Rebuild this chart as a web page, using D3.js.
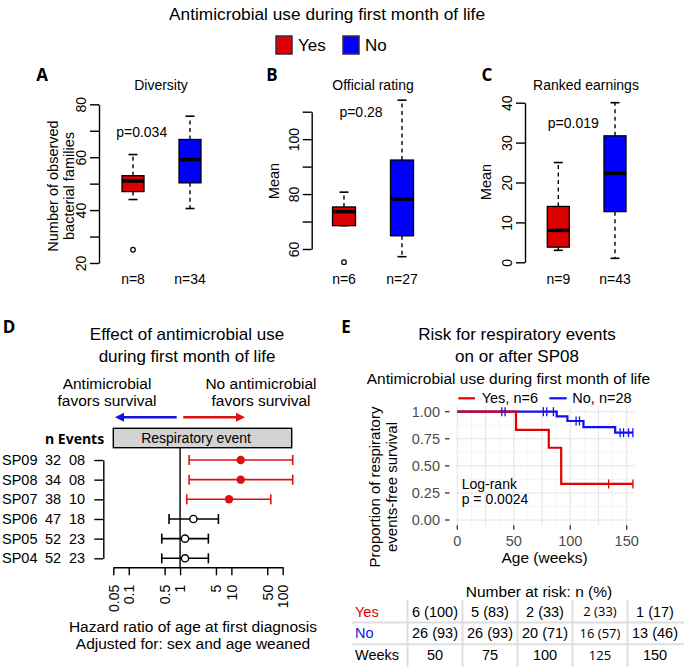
<!DOCTYPE html>
<html><head><meta charset="utf-8">
<script src="https://cdn.jsdelivr.net/npm/d3@7"></script>
<style>
body{margin:0;background:#fff}
svg{display:block}
text{font-family:"Liberation Sans",Arial,sans-serif;fill:#000}
</style>
</head><body>
<svg id="c" width="685" height="670"></svg>
<script>
// ---------------- DATA ----------------
const groups = ["Yes", "No"];
const groupColors = ["#dd0000", "#0000ff"];

// Panel A: Diversity  [lowWhisker, Q1, median, Q3, highWhisker]
const diversityStats = [[44, 47, 51, 53, 61], [40.6, 50.3, 59.1, 66.7, 75.5]];
const diversityOutliers = [[25], []];
const diversityN = [8, 34];
const diversityTicks = [20, 30, 40, 50, 60, 70, 80];
const diversityLabels = [20, 40, 60, 80];

// Panel B: Official rating
const ratingStats = [[68.5, 68.5, 73.6, 75.3, 80.7], [57.2, 64.8, 78.2, 92.4, 114.2]];
const ratingOutliers = [[55.2], []];
const ratingN = [6, 27];
const ratingTicks = [60, 70, 80, 90, 100, 110];
const ratingLabels = [60, 80, 100];

// Panel C: Ranked earnings
const earningsStats = [[3, 3.8, 8, 14, 25], [1, 12.7, 22.3, 31.7, 40]];
const earningsOutliers = [[], []];
const earningsN = [9, 43];
const earningsTicks = [0, 10, 20, 30, 40];
const earningsLabels = [0, 10, 20, 30, 40];

// Panel D: forest plot
const forestRows = ["SP09", "SP08", "SP07", "SP06", "SP05", "SP04"];
const forestN = [32, 34, 38, 47, 52, 52];
const forestEvents = ["08", "08", "10", "18", "23", "23"];
const forestHR = [15.2, 15.2, 9.0, 1.82, 1.25, 1.25];
const forestLower = [1.5, 1.5, 1.35, 0.61, 0.44, 0.44];
const forestUpper = [157, 157, 58.6, 5.58, 3.56, 3.56];
const forestSignificant = [true, true, true, false, false, false];
const forestTicks = [0.05, 0.1, 0.5, 1, 5, 10, 50, 100];

// Panel E: Kaplan-Meier
const kmYesTime = [0, 52, 81, 92, 155.5];
const kmYesSurv = [1, 0.833, 0.667, 0.333, 0.333];
const kmYesCensorTime = [134, 155.5];
const kmYesCensorSurv = [0.333, 0.333];
const kmNoTime = [0, 88, 97.5, 111.7, 139.8, 155.5];
const kmNoSurv = [1, 0.957, 0.914, 0.857, 0.806, 0.806];
const kmNoCensorTime = [39.4, 42.3, 76.2, 79.2, 85.1, 105.2, 108.2, 144.2, 147.2, 151.6, 155.5];
const kmNoCensorSurv = [1, 1, 1, 1, 1, 0.914, 0.914, 0.806, 0.806, 0.806, 0.806];
const kmXTicks = [0, 50, 100, 150];
const kmYTicks = [0, 0.25, 0.5, 0.75, 1];
const kmLegend = ["Yes, n=6", "No, n=28"];

// Risk table
const riskWeeks = [50, 75, 100, 125, 150];
const riskYesN = [6, 5, 2, 2, 1];
const riskYesPct = [100, 83, 33, 33, 17];
const riskNoN = [26, 26, 20, 16, 13];
const riskNoPct = [93, 93, 71, 57, 46];

// ---------------- DRAW ----------------
const svg = d3.select("#c");
const KMRED = "#e00000", KMBLUE = "#1010f0", FRED = "#dd1111";

function txt(x, y, s, size, opts = {}) {
  const t = svg.append("text").attr("x", x).attr("y", y).attr("dy", "0.35em")
    .attr("text-anchor", opts.anchor || "middle").style("font-size", size + "px").text(s);
  if (opts.weight) t.style("font-weight", opts.weight);
  if (opts.family) t.style("font-family", opts.family);
  if (opts.fill) t.style("fill", opts.fill);
  return t;
}
function rtxt(x, y, s, size) {
  return svg.append("text").attr("transform", `translate(${x},${y}) rotate(-90)`)
    .attr("dy", "0.35em").attr("text-anchor", "middle").style("font-size", size + "px").text(s);
}

// Top title + legend
txt(327, 14, "Antimicrobial use during first month of life", 17.3);
groups.forEach((g, i) => {
  const bx = [276, 343][i];
  svg.append("rect").attr("x", bx).attr("y", 36).attr("width", 16).attr("height", 18)
    .attr("fill", groupColors[i]).attr("stroke", "#3a2a4a").attr("stroke-width", 1.5);
  txt(bx + 22, 45.5, g, 17, {anchor: "start"});
});

function letter(x, y, s) {
  txt(x, y, s, 17, {weight: 700, family: "'Open Sans',sans-serif"});
}

function boxPanel(cfg) {
  const y = d3.scaleLinear().domain(cfg.yDomain).range(cfg.yRange);
  const x = d3.scalePoint().domain(groups).range(cfg.centers);
  const ax = svg.append("g").attr("transform", `translate(${cfg.axisX},0)`)
    .call(d3.axisLeft(y).tickValues(cfg.ticks).tickSize(9).tickSizeOuter(0)
      .tickFormat(d => cfg.labels.includes(d) ? d : ""));
  ax.selectAll("path,line").attr("stroke", "#000").attr("stroke-width", 1.4);
  ax.selectAll("text").attr("transform", "rotate(-90)").attr("x", 0).attr("y", -13)
    .attr("dy", 0).attr("text-anchor", "middle").style("font-size", "14px").style("fill", "#000")
    .style("font-family", "'Liberation Sans',Arial,sans-serif");
  const bw = cfg.boxW, cw = 9;
  groups.forEach((g, i) => {
    const s = cfg.stats[i], cx = x(g);
    const G = svg.append("g");
    G.append("line").attr("x1", cx).attr("x2", cx).attr("y1", y(s[3])).attr("y2", y(s[4]))
      .attr("stroke", "#000").attr("stroke-width", 1.4).attr("stroke-dasharray", "4,3.5");
    G.append("line").attr("x1", cx).attr("x2", cx).attr("y1", y(s[1])).attr("y2", y(s[0]))
      .attr("stroke", "#000").attr("stroke-width", 1.4).attr("stroke-dasharray", "4,3.5");
    [s[0], s[4]].forEach(v => G.append("line").attr("x1", cx - cw / 2).attr("x2", cx + cw / 2)
      .attr("y1", y(v)).attr("y2", y(v)).attr("stroke", "#000").attr("stroke-width", 1.6));
    G.append("rect").attr("x", cx - bw / 2).attr("width", bw).attr("y", y(s[3]))
      .attr("height", y(s[1]) - y(s[3])).attr("fill", groupColors[i])
      .attr("stroke", "#000").attr("stroke-width", 1.3);
    G.append("line").attr("x1", cx - bw / 2).attr("x2", cx + bw / 2).attr("y1", y(s[2])).attr("y2", y(s[2]))
      .attr("stroke", "#000").attr("stroke-width", 3.5);
    cfg.outliers[i].forEach(v => G.append("circle").attr("cx", cx).attr("cy", y(v)).attr("r", 2.3)
      .attr("fill", "none").attr("stroke", "#000").attr("stroke-width", 1.2));
    txt(cx, 279, "n=" + cfg.ns[i], 14);
  });
  txt(cfg.titleX, 85, cfg.title, 14);
  txt(cfg.pX, cfg.pY, cfg.pText, 14);
  cfg.ylab.forEach((l, k) => rtxt(cfg.ylabX[k], cfg.ylabY, l, 14.5));
}

letter(42, 75, "A");
boxPanel({title: "Diversity", titleX: 161, axisX: 99, yDomain: [20, 80], yRange: [263, 104.3],
  centers: [133, 190], boxW: 22, stats: diversityStats, outliers: diversityOutliers, ns: diversityN,
  ticks: diversityTicks, labels: diversityLabels, pText: "p=0.034", pX: 141.7, pY: 131.7,
  ylab: ["Number of observed", "bacterial families"], ylabX: [53, 69], ylabY: 186});

letter(272, 75, "B");
boxPanel({title: "Official rating", titleX: 373, axisX: 311.7, yDomain: [60, 110], yRange: [249, 111.7],
  centers: [344, 402], boxW: 23, stats: ratingStats, outliers: ratingOutliers, ns: ratingN,
  ticks: ratingTicks, labels: ratingLabels, pText: "p=0.28", pX: 361, pY: 112.3,
  ylab: ["Mean"], ylabX: [273.5], ylabY: 181});

letter(487, 75, "C");
boxPanel({title: "Ranked earnings", titleX: 586, axisX: 525, yDomain: [0, 40], yRange: [262.3, 102.7],
  centers: [558.3, 615], boxW: 22, stats: earningsStats, outliers: earningsOutliers, ns: earningsN,
  ticks: earningsTicks, labels: earningsLabels, pText: "p=0.019", pX: 573.3, pY: 123.3,
  ylab: ["Mean"], ylabX: [485.5], ylabY: 182});

// ---------------- Panel D ----------------
letter(9, 327, "D");
txt(187, 334, "Effect of antimicrobial use", 17);
txt(187, 356, "during first month of life", 17);
txt(107, 384, "Antimicrobial", 15.5);
txt(107, 401, "favors survival", 15.5);
txt(261, 384, "No antimicrobial", 15.5);
txt(261, 401, "favors survival", 15.5);
// arrows
svg.append("line").attr("x1", 176.7).attr("x2", 122).attr("y1", 417.3).attr("y2", 417.3)
  .attr("stroke", "#1010e0").attr("stroke-width", 2.5);
svg.append("path").attr("d", "M115,417.3 L124,412.8 L124,421.8 Z").attr("fill", "#1010e0");
svg.append("line").attr("x1", 183.3).attr("x2", 238).attr("y1", 417.3).attr("y2", 417.3)
  .attr("stroke", FRED).attr("stroke-width", 2.5);
svg.append("path").attr("d", "M245,417.3 L236,412.8 L236,421.8 Z").attr("fill", FRED);

const xF = d3.scaleLog().domain([0.05, 100]).range([113.3, 282.7]);
const yF = d3.scalePoint().domain(forestRows).range([460, 558.3]);

svg.append("rect").attr("x", 113.3).attr("y", 428.3).attr("width", 178.4).attr("height", 19.4)
  .attr("fill", "#d3d3d3").attr("stroke", "#000").attr("stroke-width", 1.4);
txt(196, 438, "Respiratory event", 14);
txt(45, 439, "n Events", 14, {anchor: "start", weight: 700, family: "'Open Sans',sans-serif"});

// left bracket axis
const lb = svg.append("g").attr("transform", "translate(103.3,0)")
  .call(d3.axisLeft(yF).tickSize(9).tickSizeOuter(0).tickFormat(""));
lb.selectAll("path,line").attr("stroke", "#000").attr("stroke-width", 1.4);

forestRows.forEach((r, i) => {
  const yy = yF(r);
  txt(2, yy, r, 14.5, {anchor: "start"});
  txt(45, yy, String(forestN[i]), 14.5, {anchor: "start"});
  txt(69, yy, forestEvents[i], 14.5, {anchor: "start"});
});

// reference line at HR = 1
svg.append("line").attr("x1", xF(1)).attr("x2", xF(1)).attr("y1", 447.7).attr("y2", 567.3)
  .attr("stroke", "#000").attr("stroke-width", 1.4);

forestRows.forEach((r, i) => {
  const yy = yF(r), col = forestSignificant[i] ? FRED : "#000";
  const G = svg.append("g");
  G.append("line").attr("x1", xF(forestLower[i])).attr("x2", xF(forestUpper[i]))
    .attr("y1", yy).attr("y2", yy).attr("stroke", col).attr("stroke-width", 1.6);
  [forestLower[i], forestUpper[i]].forEach(v => G.append("line").attr("x1", xF(v)).attr("x2", xF(v))
    .attr("y1", yy - 5).attr("y2", yy + 5).attr("stroke", col).attr("stroke-width", 1.6));
  if (forestSignificant[i]) {
    G.append("circle").attr("cx", xF(forestHR[i])).attr("cy", yy).attr("r", 4.2).attr("fill", FRED);
  } else {
    G.append("circle").attr("cx", xF(forestHR[i])).attr("cy", yy).attr("r", 3.6)
      .attr("fill", "#fff").attr("stroke", "#000").attr("stroke-width", 1.4);
  }
});

const fa = svg.append("g").attr("transform", "translate(0,567.3)")
  .call(d3.axisBottom(xF).tickValues(forestTicks).tickSize(8).tickSizeOuter(0).tickFormat(d => String(d)));
fa.selectAll("path,line").attr("stroke", "#000").attr("stroke-width", 1.4);
fa.selectAll("text").attr("transform", "rotate(-90)").attr("x", -17.5).attr("y", 0).attr("dy", "0.35em")
  .attr("text-anchor", "end").style("font-size", "14px").style("fill", "#000")
  .style("font-family", "'Liberation Sans',Arial,sans-serif");
txt(193, 627, "Hazard ratio of age at first diagnosis", 15.5);
txt(193, 644, "Adjusted for: sex and age weaned", 15.5);

// ---------------- Panel E ----------------
letter(346, 327, "E");
txt(517, 334, "Risk for respiratory events", 17);
txt(517, 356, "on or after SP08", 17);
txt(508.5, 378.5, "Antimicrobial use during first month of life", 15.5);

// legend
[[458.3, 475, KMRED, 481.7], [549.3, 566.7, KMBLUE, 572.3]].forEach((l, i) => {
  svg.append("line").attr("x1", l[0]).attr("x2", l[1]).attr("y1", 398.3).attr("y2", 398.3)
    .attr("stroke", l[2]).attr("stroke-width", 2.2);
  txt(l[3], 398.3, kmLegend[i], 14.5, {anchor: "start"});
});

const xK = d3.scaleLinear().domain([0, 150]).range([457.3, 626.7]);
const yK = d3.scaleLinear().domain([0, 1]).range([520, 411.7]);
const px0 = xK(-1.5), px1 = xK(157), py0 = yK(1.05), py1 = yK(-0.05);
const grid = svg.append("g");
d3.range(0, 157, 12.5).forEach(v => {
  const major = v % 25 === 0;
  grid.append("line").attr("x1", xK(v)).attr("x2", xK(v)).attr("y1", py0).attr("y2", py1)
    .attr("stroke", major ? "#e6e6e6" : "#f1f1f1").attr("stroke-width", major ? 1.1 : 0.7);
});
d3.range(0, 1.01, 0.125).forEach(v => {
  const major = Math.abs((v / 0.25) - Math.round(v / 0.25)) < 1e-6;
  grid.append("line").attr("x1", px0).attr("x2", px1).attr("y1", yK(v)).attr("y2", yK(v))
    .attr("stroke", major ? "#e6e6e6" : "#f1f1f1").attr("stroke-width", major ? 1.1 : 0.7);
});

// axes
kmYTicks.forEach(v => {
  svg.append("line").attr("x1", 445).attr("x2", 449.5).attr("y1", yK(v)).attr("y2", yK(v))
    .attr("stroke", "#333").attr("stroke-width", 1.3);
  txt(440, yK(v), d3.format(".2f")(v), 14.5, {anchor: "end", fill: "#4d4d4d"});
});
kmXTicks.forEach(v => {
  svg.append("line").attr("x1", xK(v)).attr("x2", xK(v)).attr("y1", 525.3).attr("y2", 529.8)
    .attr("stroke", "#333").attr("stroke-width", 1.3);
  txt(xK(v), 540.5, String(v), 14.5, {fill: "#4d4d4d"});
});
txt(544.5, 557.5, "Age (weeks)", 15.5);
rtxt(375, 487, "Proportion of respiratory", 15);
rtxt(392, 487, "events-free survival", 15);

const stepLine = d3.line().x(d => xK(d[0])).y(d => yK(d[1])).curve(d3.curveStepAfter);
svg.append("path").attr("d", stepLine(kmNoTime.map((t, i) => [t, kmNoSurv[i]])))
  .attr("fill", "none").attr("stroke", KMBLUE).attr("stroke-width", 2.2);
svg.append("path").attr("d", stepLine(kmYesTime.map((t, i) => [t, kmYesSurv[i]])))
  .attr("fill", "none").attr("stroke", KMRED).attr("stroke-width", 2.2);
function censor(times, survs, col) {
  times.forEach((t, i) => svg.append("line").attr("x1", xK(t)).attr("x2", xK(t))
    .attr("y1", yK(survs[i]) - 4.5).attr("y2", yK(survs[i]) + 4.5)
    .attr("stroke", col).attr("stroke-width", 1.3));
}
censor(kmNoCensorTime, kmNoCensorSurv, KMBLUE);
censor(kmYesCensorTime, kmYesCensorSurv, KMRED);

txt(461.7, 484, "Log-rank", 14, {anchor: "start"});
txt(461.7, 499.5, "p = 0.0024", 14, {anchor: "start"});

// risk table
txt(539, 591.7, "Number at risk: n (%)", 15.5);
const xT = d3.scalePoint().domain(riskWeeks).range([435, 655]);
const yT = d3.scalePoint().domain(["Yes", "No", "Weeks"]).range([611.7, 655]);
const step = xT.step();
riskWeeks.forEach((w, i) => {
  svg.append("line").attr("x1", xT(w) - step / 2).attr("x2", xT(w) - step / 2).attr("y1", 600).attr("y2", 667)
    .attr("stroke", "#dedede").attr("stroke-width", 2);
});
[(yT("Yes") + yT("No")) / 2, (yT("No") + yT("Weeks")) / 2].forEach(yy =>
  svg.append("line").attr("x1", 351.7).attr("x2", 684).attr("y1", yy).attr("y2", yy)
    .attr("stroke", "#dedede").attr("stroke-width", 2));
txt(355, yT("Yes"), "Yes", 14.5, {anchor: "start", fill: KMRED});
txt(355, yT("No"), "No", 14.5, {anchor: "start", fill: KMBLUE});
txt(355, yT("Weeks"), "Weeks", 14.5, {anchor: "start"});
riskWeeks.forEach((w, i) => {
  const o = w === 125 ? {family: "'Open Sans',sans-serif"} : {};
  const sz = w === 125 ? 13 : 14.5;
  txt(xT(w), yT("Yes"), `${riskYesN[i]} (${riskYesPct[i]})`, sz, o);
  txt(xT(w), yT("No"), `${riskNoN[i]} (${riskNoPct[i]})`, sz, o);
  txt(xT(w), yT("Weeks"), String(w), sz, o);
});
</script>
</body></html>
